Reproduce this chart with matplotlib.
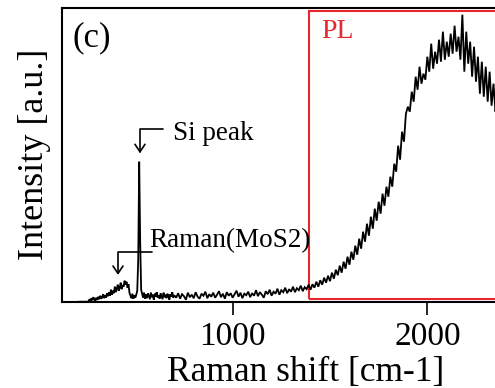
import numpy as np
import matplotlib
matplotlib.use("Agg")
import matplotlib.pyplot as plt
from matplotlib.patches import Rectangle

plt.rcParams["font.family"] = ["Liberation Serif", "DejaVu Serif"]

# Raman shift grids [cm-1]: fine step around the Raman lines, coarser over the PL band
shift_low = np.arange(210, 701, 5)
shift_high = np.arange(710, 2621, 10)

intensity_low = [
    0, 0, 0, 0, 0, 0, 0, 0, 0, 0,
    5, 25, 8, 35, 15, 45, 20, 10, 40, 18,
    50, 25, 60, 30, 45, 75, 35, 65, 40, 85,
    55, 95, 60, 120, 70, 110, 85, 150, 95, 130,
    170, 110, 140, 190, 125, 165, 150, 210, 170, 200,
    140, 175, 90, 60, 35, 80, 30, 65, 40, 70,
    110, 420, 1400, 600, 120, 80, 40, 90, 30, 75,
    35, 85, 55, 25, 90, 45, 70, 20, 80, 50,
    95, 40, 65, 30, 85, 55, 25, 90, 45, 70,
    35, 80, 55, 20, 75, 50, 95, 40, 65,
]

intensity_high = [
    40, 85, 30, 75, 55, 20, 90, 45, 70, 35,
    95, 50, 30, 80, 60, 100, 35, 75, 50, 90,
    40, 70, 105, 45, 80, 30, 95, 60, 85, 40,
    75, 110, 50, 90, 35, 80, 65, 100, 45, 85,
    60, 115, 55, 95, 70, 40, 105, 75, 120, 60,
    100, 80, 130, 70, 115, 95, 140, 85, 125, 100,
    150, 95, 135, 115, 160, 105, 145, 125, 170, 120,
    175, 140, 200, 150, 215, 170, 240, 190, 260, 205,
    290, 230, 320, 265, 360, 290, 400, 330, 450, 370,
    500, 420, 560, 470, 630, 530, 700, 600, 780, 660,
    850, 730, 930, 810, 1000, 880, 1080, 960, 1150, 1050,
    1250, 1150, 1380, 1300, 1560, 1420, 1700, 1600, 1880, 1950,
    1900, 2100, 2000, 2250, 2120, 2350, 2180, 2280, 2220, 2450,
    2300, 2580, 2330, 2500, 2380, 2620, 2400, 2700, 2420, 2600,
    2450, 2680, 2480, 2760, 2500, 2650, 2420, 2870, 2300, 2700,
    2380, 2600, 2250, 2550, 2200, 2450, 2080, 2400, 2050, 2350,
    2000, 2300, 1960, 2180, 1900, 2100, 1850, 2020, 1780, 1950,
    1720, 1880, 1650, 1800, 1600, 1720, 1520, 1650, 1450, 1580,
    1400, 1500, 1330, 1420, 1280, 1360, 1200, 1300, 1150, 1220,
    1080, 1150,
]

shift = np.concatenate([shift_low, shift_high])
intensity = np.concatenate([intensity_low, intensity_high])

x_ticks = [1000, 2000]
x_range = (125, 2625)
y_range = (0, 2940)

pl_window = (1392, 27, 2600, 2907)  # x0, y0, x1, y1
red = "#E8262E"

fig = plt.figure(figsize=(4.95, 3.88), dpi=100)
ax = fig.add_axes([62.3 / 495, 1 - 301.7 / 388, (549 - 62.3) / 495, (301.7 - 7.7) / 388])

ax.plot(shift, intensity, color="black", lw=1.3, solid_joinstyle="miter")

ax.add_patch(Rectangle((pl_window[0], pl_window[1]),
                       pl_window[2] - pl_window[0], pl_window[3] - pl_window[1],
                       fill=False, edgecolor=red, lw=1.5))
ax.text(1457, 2637, "PL", color=red, fontsize=20, ha="left", va="baseline")

arrow_kw = dict(arrowstyle="->,head_length=0.45,head_width=0.3",
                connectionstyle="angle,angleA=0,angleB=90,rad=0",
                color="black", lw=1.2, shrinkA=0, shrinkB=0, mutation_scale=12)
ax.annotate("", xy=(524, 1484), xytext=(642, 1724), arrowprops=arrow_kw)
ax.text(693, 1617, "Si peak", fontsize=19.5, ha="left", va="baseline")

ax.annotate("", xy=(411, 267), xytext=(585, 500), arrowprops=arrow_kw)
ax.text(570, 550, "Raman(MoS2)", fontsize=19.5, ha="left", va="baseline")

ax.text(0.0214, 0.870, "(c)", transform=ax.transAxes, fontsize=25,
        ha="left", va="baseline")

ax.set_xlim(*x_range)
ax.set_ylim(*y_range)
ax.set_xticks(x_ticks)
ax.set_xticklabels([str(t) for t in x_ticks])
ax.set_yticks([])
ax.tick_params(axis="x", direction="out", length=9, width=1.2, labelsize=24, pad=5)
for s in ax.spines.values():
    s.set_linewidth(1.5)

ax.set_xlabel("Raman shift [cm-1]", fontsize=25.5, labelpad=3)
ax.set_ylabel("Intensity [a.u.]", fontsize=26, labelpad=8)

fig.savefig("out.png", dpi=100)
